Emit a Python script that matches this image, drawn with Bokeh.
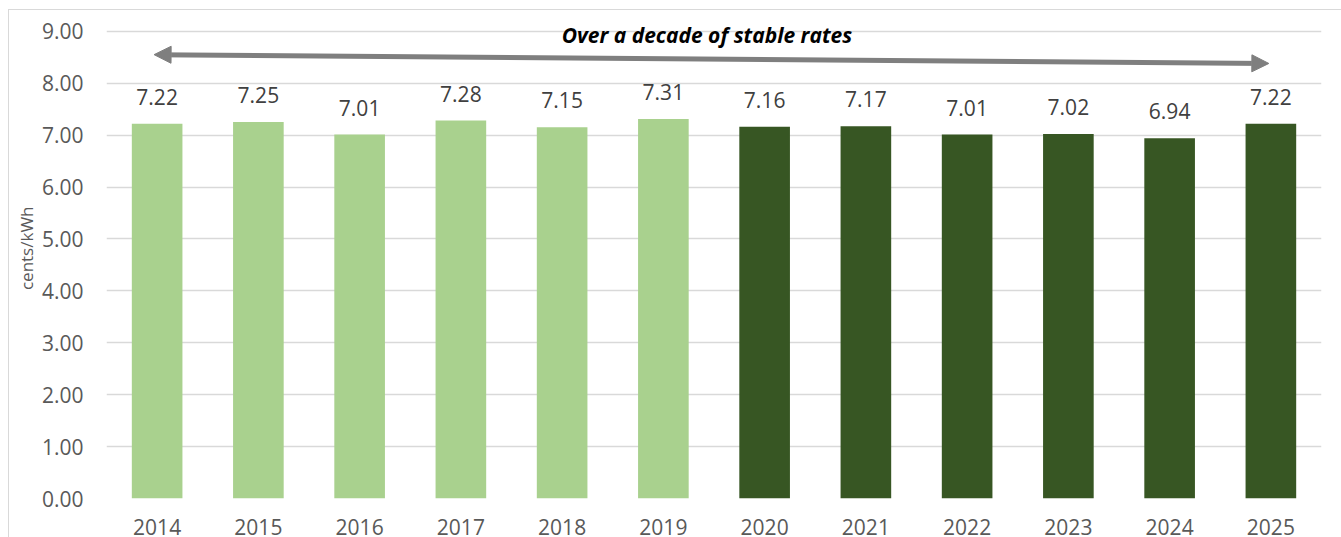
import math
from bokeh.plotting import figure
from bokeh.layouts import row
from bokeh.models import ColumnDataSource, FixedTicker, Arrow, NormalHead, Label, LabelSet, NumeralTickFormatter
from bokeh.core.properties import value
from bokeh.embed import file_html
from bokeh.resources import INLINE

years = ["2014", "2015", "2016", "2017", "2018", "2019", "2020", "2021", "2022", "2023", "2024", "2025"]
rates = [7.22, 7.25, 7.01, 7.28, 7.15, 7.31, 7.16, 7.17, 7.01, 7.02, 6.94, 7.22]
colors = ["#A9D18E"] * 6 + ["#375623"] * 6
labels = [f"{v:.2f}" for v in rates]
y_ticks = [0, 1, 2, 3, 4, 5, 6, 7, 8, 9]
annotation = "Over a decade of stable rates"
y_title = "cents/kWh"

src = ColumnDataSource(dict(x=years, y=rates, c=colors, t=labels))

# narrow strip holding the rotated y-axis title
lab = figure(width=29, height=528, x_range=(0, 29), y_range=(0, 9.40),
             output_backend="svg", toolbar_location=None,
             x_axis_type=None, y_axis_type=None, min_border=0)
lab.outline_line_color = None
lab.xgrid.grid_line_color = None
lab.ygrid.grid_line_color = None
lab.add_layout(Label(x=17, y=4.82, text=y_title, angle=math.pi / 2,
                     text_align="center", text_baseline="middle",
                     text_font="Open Sans", text_font_size="17px", text_color="#595959"))

p = figure(x_range=years, y_range=(0, 9.40), width=1303, height=528,
           output_backend="svg", toolbar_location=None,
           min_border_left=66, min_border_right=20, min_border_top=0, min_border_bottom=40)
p.outline_line_color = None
p.background_fill_color = "white"
p.border_fill_color = "white"

p.vbar(x="x", top="y", width=0.5, fill_color="c", line_color=None, source=src)

p.add_layout(LabelSet(x="x", y="y", text="t", source=src, text_align="center",
                      text_baseline="alphabetic", y_offset=19, text_font=value("Open Sans"),
                      text_font_size=value("21px"), text_color="#404040"))

p.add_layout(Arrow(x_start=0.47, y_start=8.55, x_end=11.48, y_end=8.38,
                   line_color="#7F7F7F", line_width=5,
                   start=NormalHead(size=17, fill_color="#7F7F7F", line_color="#7F7F7F"),
                   end=NormalHead(size=17, fill_color="#7F7F7F", line_color="#7F7F7F")))

p.add_layout(Label(x=5.93, y=8.92, text=annotation, text_align="center", text_baseline="middle",
                   text_font="Open Sans", text_font_style="bold italic", text_font_size="21px",
                   text_color="black"))

p.yaxis.ticker = FixedTicker(ticks=y_ticks)
p.yaxis.formatter = NumeralTickFormatter(format="0.00")

for ax in (p.xaxis, p.yaxis):
    ax.axis_line_color = None
    ax.major_tick_line_color = None
    ax.minor_tick_line_color = None
    ax.major_tick_out = 0
    ax.major_tick_in = 0
    ax.minor_tick_out = 0
    ax.major_label_text_font = "Open Sans"
    ax.major_label_text_font_size = "21px"
    ax.major_label_text_color = "#595959"
p.yaxis.major_label_standoff = 23
p.xaxis.major_label_standoff = 20

p.xgrid.grid_line_color = None
p.ygrid.grid_line_color = "#D9D9D9"
p.ygrid.grid_line_width = 1.3

layout = row(lab, p, spacing=0, margin=(9, 0, 0, 8))
layout.styles = {"border": "1px solid #D9D9D9", "background-color": "white"}

open("out.html", "w").write(file_html(layout, INLINE))
